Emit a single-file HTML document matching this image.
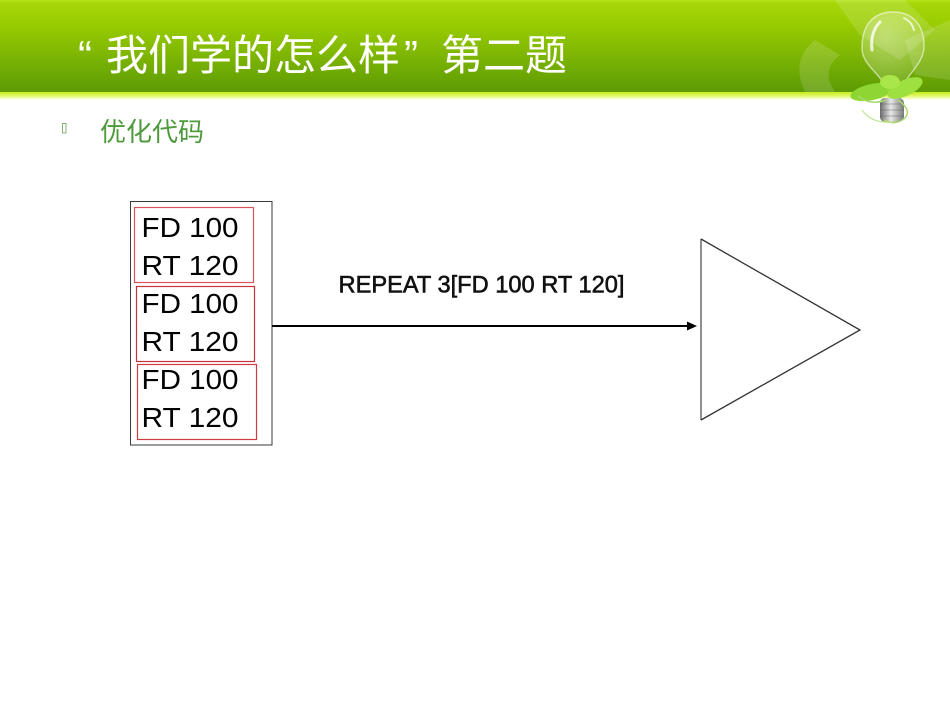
<!DOCTYPE html>
<html>
<head>
<meta charset="utf-8">
<style>
html,body{margin:0;padding:0;background:#fff;}
body{width:950px;height:713px;overflow:hidden;position:relative;}
svg{position:absolute;left:0;top:0;}
</style>
</head>
<body>
<svg width="950" height="713" viewBox="0 0 950 713" xmlns="http://www.w3.org/2000/svg">
  <defs>
    <linearGradient id="band" x1="0" y1="0" x2="0" y2="1">
      <stop offset="0" stop-color="#b6e21a"/>
      <stop offset="0.04" stop-color="#a6d606"/>
      <stop offset="0.25" stop-color="#9acd02"/>
      <stop offset="1" stop-color="#5c9a04"/>
    </linearGradient>
    <linearGradient id="hl" x1="0" y1="0" x2="0" y2="1">
      <stop offset="0" stop-color="#c8ec1e"/>
      <stop offset="0.5" stop-color="#e2f86a"/>
      <stop offset="1" stop-color="#ffffff"/>
    </linearGradient>
    <linearGradient id="screw" x1="0" y1="0" x2="1" y2="0">
      <stop offset="0" stop-color="#6a6a6a"/>
      <stop offset="0.45" stop-color="#e8e8e8"/>
      <stop offset="1" stop-color="#7a7a7a"/>
    </linearGradient>
    <radialGradient id="glass" cx="0.4" cy="0.35" r="0.7">
      <stop offset="0" stop-color="#ffffff" stop-opacity="0.35"/>
      <stop offset="1" stop-color="#ffffff" stop-opacity="0.12"/>
    </radialGradient>
  </defs>

  <!-- header band -->
  <rect x="0" y="0" width="950" height="93" fill="url(#band)"/>
  <rect x="0" y="92" width="950" height="8" fill="url(#hl)"/>

  <!-- recycle shapes (decorative) -->
  <g fill="#ffffff" fill-opacity="0.14">
    <polygon points="835,0 905,0 935,30 900,60 860,35"/>
    <path d="M815,40 Q790,60 805,92 L835,92 Q820,70 840,55 Z"/>
    <polygon points="905,40 950,20 950,80 915,75"/>
  </g>

  <!-- light bulb -->
  <g>
    <path d="M862,48 C862,20 878,12 893,12 C910,12 924,22 924,46 C924,62 910,72 904,84 L884,84 C878,72 862,64 862,48 Z" fill="url(#glass)" stroke="#ffffff" stroke-opacity="0.55" stroke-width="1.5"/>
    <path d="M880,22 Q870,32 872,50" stroke="#ffffff" stroke-opacity="0.8" stroke-width="3" fill="none" stroke-linecap="round"/>
    <path d="M904,18 Q912,22 914,30" stroke="#ffffff" stroke-opacity="0.7" stroke-width="2" fill="none" stroke-linecap="round"/>
    <rect x="880" y="98" width="24" height="24" rx="5" fill="url(#screw)"/>
    <path d="M880,104 L904,104 M880,110 L904,110 M880,116 L904,116" stroke="#555" stroke-opacity="0.4" stroke-width="1"/>
    <ellipse cx="872" cy="92" rx="22" ry="8" transform="rotate(-12 872 92)" fill="#8ed634"/>
    <ellipse cx="905" cy="88" rx="19" ry="8" transform="rotate(-25 905 88)" fill="#9ee040"/>
    <ellipse cx="890" cy="82" rx="10" ry="7" fill="#a8e64a"/>
    <path d="M858,96 Q870,106 886,100 M898,100 Q912,110 905,118 Q896,126 884,120" stroke="#a9d86a" stroke-width="1.5" fill="none"/>
    <path d="M862,110 Q872,124 892,122" stroke="#c5e69a" stroke-width="1.2" fill="none"/>
  </g>

  <!-- title -->
  <g fill="#ffffff" font-family="'Liberation Sans','Noto Sans CJK SC',sans-serif" font-size="42">
    <text x="78" y="70">“</text>
    <text x="106" y="70" font-family="'Noto Sans CJK SC','WenQuanYi Zen Hei',sans-serif">我们学的怎么样</text>
    <text x="404" y="70">”</text>
    <text x="441" y="70" font-family="'Noto Sans CJK SC','WenQuanYi Zen Hei',sans-serif">第二题</text>
  </g>

  <!-- bullet -->
  <rect x="62.5" y="123.5" width="3.5" height="9.5" fill="none" stroke="#8ab07e" stroke-width="1"/>
  <text x="100" y="141" fill="#4f9a3c" font-size="26" font-family="'Noto Sans CJK SC','WenQuanYi Zen Hei',sans-serif">优化代码</text>

  <!-- left code box -->
  <rect x="130.5" y="201.5" width="141.5" height="243.5" fill="#fff" stroke="#3a3a3a" stroke-width="1"/>
  <rect x="134.5" y="207.5" width="119" height="75" fill="none" stroke="#d9535a" stroke-width="1.2"/>
  <rect x="136.5" y="286.5" width="118" height="75" fill="none" stroke="#c8323a" stroke-width="1.2"/>
  <rect x="137.5" y="364.5" width="119" height="75" fill="none" stroke="#d23a42" stroke-width="1.2"/>

  <g font-family="'Liberation Sans',Arial,sans-serif" font-size="28" fill="#000">
    <text x="141.5" y="237" textLength="97" lengthAdjust="spacingAndGlyphs">FD 100</text>
    <text x="141.5" y="275" textLength="97" lengthAdjust="spacingAndGlyphs">RT 120</text>
    <text x="141.5" y="313" textLength="97" lengthAdjust="spacingAndGlyphs">FD 100</text>
    <text x="141.5" y="351" textLength="97" lengthAdjust="spacingAndGlyphs">RT 120</text>
    <text x="141.5" y="389" textLength="97" lengthAdjust="spacingAndGlyphs">FD 100</text>
    <text x="141.5" y="427" textLength="97" lengthAdjust="spacingAndGlyphs">RT 120</text>
  </g>

  <!-- connector -->
  <text x="338.5" y="292.5" font-family="'Liberation Sans',Arial,sans-serif" font-size="24" fill="#111" stroke="#111" stroke-width="0.6" textLength="286" lengthAdjust="spacingAndGlyphs">REPEAT 3[FD 100 RT 120]</text>
  <line x1="272" y1="326" x2="689" y2="326" stroke="#000" stroke-width="2"/>
  <polygon points="687,321.5 697,326 687,330.5" fill="#000"/>

  <!-- triangle -->
  <line x1="701" y1="239" x2="701" y2="420" stroke="#6a6a6a" stroke-width="1.5"/>
  <polyline points="701,239 860,330 701,420" fill="none" stroke="#333" stroke-width="1.3"/>
</svg>
</body>
</html>
